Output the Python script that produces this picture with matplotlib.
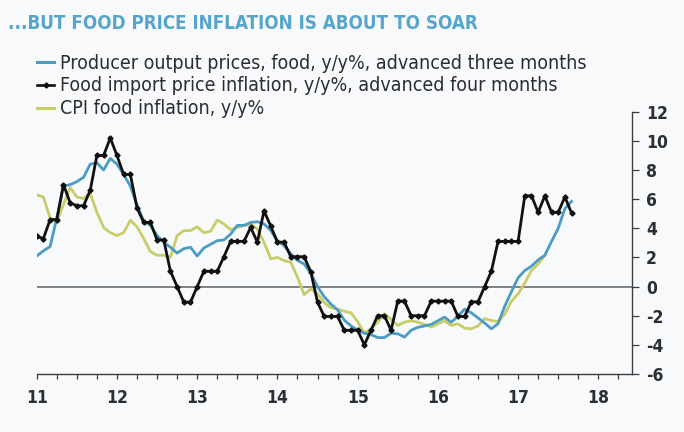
import numpy as np
import matplotlib
matplotlib.use("Agg")
import matplotlib.pyplot as plt
from matplotlib.lines import Line2D
from matplotlib.ticker import MultipleLocator, FixedLocator

# ------------------------------------------------------------------ #
#  Data (monthly, starting Jan 2011)                                   #
# ------------------------------------------------------------------ #
start_year = 2011

producer_output = [
    2.1, 2.45, 2.75, 4.7, 6.9, 7.0, 7.2, 7.5, 8.4, 8.5, 8.0, 8.8,
    8.4, 7.7, 6.9, 5.6, 4.5, 4.2, 3.5, 3.05, 2.7, 2.3, 2.6, 2.7,
    2.1, 2.65, 2.9, 3.15, 3.2, 3.6, 4.2, 4.2, 4.4, 4.45, 4.3, 3.85,
    3.15, 2.8, 2.25, 1.8, 1.55, 0.9, 0.0, -0.7, -1.2, -1.6, -2.3, -2.7,
    -3.0, -3.2, -3.3, -3.5, -3.5, -3.2, -3.24, -3.47, -3.0, -2.8, -2.7, -2.6,
    -2.35, -2.1, -2.45, -2.05, -1.55, -1.8, -2.15, -2.5, -2.9, -2.55, -1.35, -0.35,
    0.6, 1.1, 1.4, 1.83, 2.15, 3.1, 4.0, 5.35, 5.85,
]

food_import = [
    3.45, 3.3, 4.6, 4.6, 7.0, 5.75, 5.55, 5.55, 6.6, 9.0, 9.0, 10.2,
    9.0, 7.7, 7.7, 5.4, 4.4, 4.4, 3.2, 3.2, 1.05, 0.0, -1.07, -1.07,
    0.0, 1.05, 1.05, 1.05, 2.05, 3.1, 3.1, 3.1, 4.06, 3.05, 5.2, 4.15,
    3.05, 3.05, 2.05, 2.05, 2.05, 1.0, -1.07, -2.05, -2.05, -2.05, -3.0, -3.0,
    -3.0, -4.0, -3.0, -2.0, -2.0, -3.0, -1.0, -1.0, -2.0, -2.0, -2.0, -1.0,
    -1.0, -1.0, -1.0, -2.05, -2.05, -1.05, -1.05, 0.0, 1.05, 3.1, 3.1, 3.1,
    3.1, 6.23, 6.23, 5.1, 6.23, 5.1, 5.1, 6.15, 5.05,
]

cpi_food = [
    6.3, 6.15, 4.7, 4.4, 5.65, 6.8, 6.15, 6.05, 6.4, 5.1, 4.06, 3.7,
    3.5, 3.7, 4.55, 4.1, 3.3, 2.4, 2.15, 2.15, 2.0, 3.5, 3.84, 3.84,
    4.1, 3.7, 3.8, 4.57, 4.3, 3.9, 4.06, 4.18, 4.3, 3.95, 3.04, 1.9,
    2.0, 1.78, 1.67, 0.65, -0.55, -0.16, -0.5, -1.1, -1.45, -1.55, -1.7, -1.8,
    -2.4, -3.2, -2.9, -2.44, -1.87, -2.25, -2.67, -2.44, -2.35, -2.44, -2.6, -2.78,
    -2.55, -2.35, -2.67, -2.56, -2.85, -2.9, -2.7, -2.2, -2.33, -2.4, -1.9, -1.0,
    -0.5, 0.25, 1.1, 1.55, 2.12,
]

labels = [
    "Producer output prices, food, y/y%, advanced three months",
    "Food import price inflation, y/y%, advanced four months",
    "CPI food inflation, y/y%",
]
year_ticks = list(range(2011, 2019))
year_labels = [str(y % 100) for y in year_ticks]
y_ticks = list(range(-6, 13, 2))

title = "...BUT FOOD PRICE INFLATION IS ABOUT TO SOAR"

BLUE = "#4b9cc2"
YELLOW = "#c9cd68"
BLACK = "#111111"
TITLE_BLUE = "#56a5cc"
TEXT = "#2b2f33"
BG = "#f8f9fa"
FONT = "DejaVu Sans"
STRETCH = "condensed"


def months_to_years(values):
    return start_year + np.arange(len(values)) / 12.0


fig = plt.figure(figsize=(6.84, 4.32), dpi=100, facecolor=BG)
ax = fig.add_axes([0.0537, 0.1343, 0.8703, 0.607], facecolor=BG)

ax.plot(months_to_years(producer_output), producer_output, color=BLUE, lw=2.0,
        solid_joinstyle="round", zorder=3)
ax.plot(months_to_years(cpi_food), cpi_food, color=YELLOW, lw=2.0,
        solid_joinstyle="round", zorder=2)
ax.plot(months_to_years(food_import), food_import, color=BLACK, lw=2.0,
        marker="D", markersize=2.6, zorder=4)

ax.axhline(0, color="#6b6e72", lw=1.2, zorder=1)

ax.set_xlim(2011, 2018.42)
ax.set_ylim(-6, 12)

# axes styling: only bottom and right spines
for side in ("top", "left"):
    ax.spines[side].set_visible(False)
for side in ("bottom", "right"):
    ax.spines[side].set_color("#3a3d40")
    ax.spines[side].set_linewidth(1.0)

ax.yaxis.tick_right()
ax.set_yticks(y_ticks)
ax.set_yticklabels([str(v) for v in y_ticks])
ax.xaxis.set_major_locator(FixedLocator(year_ticks))
ax.set_xticklabels(year_labels)
ax.xaxis.set_minor_locator(MultipleLocator(0.25))

ax.tick_params(axis="x", which="both", direction="out", length=3.3, width=0.9,
               color="#3a3d40", pad=7.5, labelsize=12.5, labelcolor=TEXT)
ax.tick_params(axis="y", direction="out", length=5, width=0.9, color="#3a3d40",
               pad=5, labelsize=12.5, labelcolor=TEXT)
for lab in ax.get_xticklabels() + ax.get_yticklabels():
    lab.set_family(FONT)
    lab.set_stretch(STRETCH)
    lab.set_fontweight("bold")

fig.text(0.012, 0.945, title, color=TITLE_BLUE, fontsize=13.5, fontweight="bold",
         family=FONT, stretch=STRETCH, ha="left", va="center")

handles = [
    Line2D([], [], color=BLUE, lw=2.2),
    Line2D([], [], color=BLACK, lw=1.9, marker="D", markersize=2.6),
    Line2D([], [], color=YELLOW, lw=2.2),
]
leg = fig.legend(handles, labels, loc="upper left", bbox_to_anchor=(0.054, 0.876),
                 frameon=False, handlelength=0.9, handletextpad=0.3,
                 labelspacing=0.2, borderaxespad=0, borderpad=0,
                 prop={"family": FONT, "stretch": STRETCH, "size": 14.0})
for t in leg.get_texts():
    t.set_color(TEXT)

fig.savefig("out.png", dpi=100, facecolor=BG)
